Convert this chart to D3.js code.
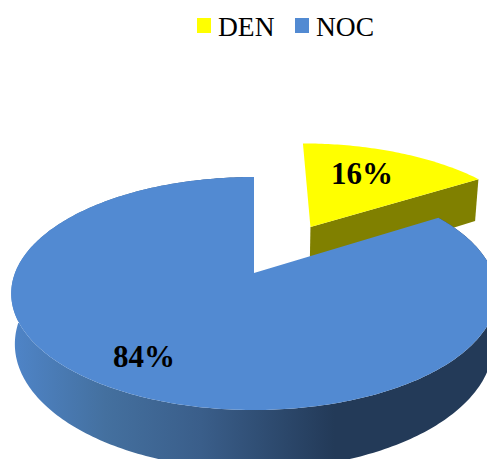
<!DOCTYPE html>
<html><head><meta charset="utf-8">
<script src="https://cdn.jsdelivr.net/npm/d3@7"></script>
<style>html,body{margin:0;padding:0;background:#fff}svg{display:block}text{font-family:"Liberation Serif",serif}</style>
</head><body><svg id="c" width="487" height="459"></svg>
<script>
const categories = ["DEN", "NOC"];
const values = [16, 84];
const labels = ["16%", "84%"];
const topColors = ["#ffff00", "#528ad2"];
const sideColors = ["#808000", "url(#sideGrad)"];

const W = 487, H = 459;
const svg = d3.select("#c").attr("viewBox", [0, 0, W, H]);

// perspective projection of the unit disc
const apexX = 254, apexY = 273, R = 239, A = 112.9, B = -0.176, DEPTH = 49, SHRINK = 0.985, EXPLODE = 0.5, NUDGE = 3;
function project(u, v, low, dx) {
  const w = 1 + B * v;
  const k = low ? SHRINK : 1;
  return [apexX + dx + k * R * u / w, apexY + (A * v + (low ? DEPTH : 0)) / w];
}
const slices = d3.pie().sort(null).value(d => d)(values);
const line = d3.line();
function arcPts(s, low) {
  const mid = (s.startAngle + s.endAngle) / 2;
  const first = s.index === 0;
  const ox = first ? EXPLODE * Math.sin(mid) : 0;
  const oy = first ? -EXPLODE * Math.cos(mid) : 0;
  const dx = first ? NUDGE : 0;
  const n = Math.ceil((s.endAngle - s.startAngle) * 60);
  const t = d3.scaleLinear().domain([0, n]).range([s.startAngle, s.endAngle]);
  return { pts: d3.range(n + 1).map(i => project(ox + Math.sin(t(i)), oy - Math.cos(t(i)), low, dx)),
           apex: project(ox, oy, low, dx) };
}

// side gradient
const defs = svg.append("defs");
const grad = defs.append("linearGradient").attr("id", "sideGrad")
  .attr("gradientUnits", "userSpaceOnUse").attr("x1", 10).attr("x2", 487).attr("y1", 0).attr("y2", 0);
[[0, "#4f85c9"], [0.2, "#44709f"], [0.4, "#3a5e8a"], [0.68, "#233a58"], [1, "#233a58"]]
  .forEach(([o, c]) => grad.append("stop").attr("offset", o).attr("stop-color", c));

// drawn back to front: the detached slice first
slices.forEach((s, i) => {
  const top = arcPts(s, false), low = arcPts(s, true);
  const g = svg.append("g").attr("class", "slice-" + categories[i]);
  // outer wall: the detached slice's rim faces away from the viewer
  if (i > 0) {
    g.append("path").attr("fill", sideColors[i])
      .attr("d", line(top.pts.concat(low.pts.slice().reverse())) + "Z");
  }
  // cut wall facing the viewer
  g.append("path").attr("fill", sideColors[i])
    .attr("d", line([top.apex, top.pts[top.pts.length - 1], low.pts[low.pts.length - 1], low.apex]) + "Z");
  // top face
  g.append("path").attr("fill", topColors[i])
    .attr("d", line([top.apex].concat(top.pts)) + "Z");
});

// value labels
const labelPos = [[362, 184], [144, 367]];
labels.forEach((t, i) => {
  svg.append("text").attr("x", labelPos[i][0]).attr("y", labelPos[i][1])
    .attr("text-anchor", "middle").attr("font-size", 31).attr("font-weight", "bold")
    .attr("fill", "#000").text(t);
});

// legend
const legendX = [197, 295];
categories.forEach((c, i) => {
  svg.append("rect").attr("x", legendX[i]).attr("y", 18).attr("width", 14).attr("height", 15)
    .attr("fill", topColors[i]);
  svg.append("text").attr("x", legendX[i] + 21).attr("y", 36)
    .attr("font-size", 27.5).attr("fill", "#000").text(c);
});
</script></body></html>
